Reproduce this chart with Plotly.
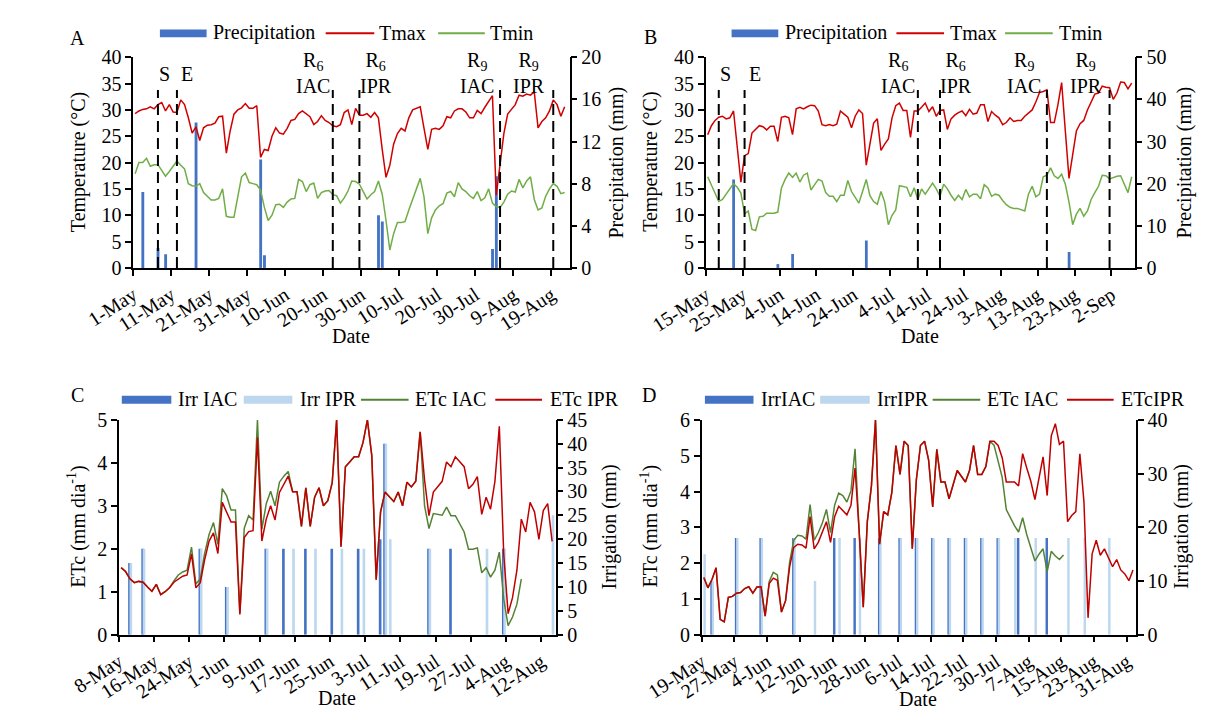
import pandas as pd
import plotly.graph_objects as go

W, H = 1208, 720
FONT = "Liberation Serif, Times New Roman, serif"
DAY = 86400000  # one day in ms

# ------------------------------------------------------------------ DATA
# Panel A (daily from 1-May)
A_START = "2019-05-01"
A_TMAX = [29.3, 29.8, 30.1, 30.2, 30.6, 30.2, 31.0, 31.4, 29.8, 31.0,
          29.6, 29.5, 31.9, 31.0, 28.5, 25.6, 26.8, 24.2, 26.6, 27.1,
          27.2, 27.5, 28.7, 28.8, 21.8, 26.0, 29.2, 30.0, 30.4, 31.2,
          30.3, 30.3, 30.8, 21.0, 22.5, 22.3, 25.0, 26.6, 25.6, 25.4,
          26.5, 28.0, 28.2, 29.3, 29.8, 29.2, 28.7, 27.2, 27.8, 28.9,
          28.0, 27.6, 27.0, 26.8, 27.2, 29.5, 30.0, 27.2, 30.3, 29.0,
          29.0, 29.3, 28.6, 29.5, 28.5, 22.5, 17.2, 19.5, 23.5, 25.5,
          26.5, 26.0, 28.5, 30.0, 30.3, 30.6, 26.5, 22.5, 26.3, 26.5,
          26.3, 27.0, 28.7, 28.5, 29.8, 30.2, 30.2, 29.6, 28.5, 28.5,
          29.9, 29.3, 30.5, 31.6, 32.7, 13.8, 20.0, 25.5, 29.2, 30.2,
          31.0, 32.8, 32.6, 33.0, 32.8, 33.4, 26.6, 27.8, 28.5, 29.8,
          31.9, 31.0, 28.8, 30.6]
A_TMIN = [17.9, 20.0, 20.0, 20.8, 19.3, 19.6, 19.6, 18.5, 17.4, 18.3,
          19.3, 20.3, 19.5, 18.8, 16.0, 15.6, 15.5, 16.0, 14.3, 13.5,
          12.9, 12.9, 13.2, 15.0, 9.8, 9.6, 9.6, 13.5, 17.3, 18.0,
          16.2, 16.0, 15.8, 14.8, 11.5, 9.0, 10.0, 12.0, 12.1, 11.5,
          12.5, 13.1, 13.2, 16.8, 16.4, 14.5, 15.8, 16.1, 13.2, 14.3,
          14.6, 14.7, 13.9, 13.7, 12.3, 13.3, 14.6, 16.5, 16.4, 15.9,
          14.5, 13.1, 13.9, 14.5, 16.5, 14.0, 9.0, 3.4, 6.5, 8.6,
          8.6, 8.8, 11.0, 13.0, 15.0, 17.0, 13.5, 6.5, 9.5, 11.0,
          11.8, 12.2, 14.2, 14.5, 13.5, 16.2, 15.0, 14.5, 13.7, 13.2,
          14.5, 12.8, 13.3, 15.0, 12.3, 11.6, 11.5, 12.5, 14.0, 14.6,
          14.4, 16.8, 15.2, 16.5, 17.3, 13.0, 11.0, 11.4, 13.6, 15.0,
          16.0, 15.5, 14.1, 14.3]
A_RAIN_DATES = ["2019-05-03", "2019-05-07", "2019-05-09", "2019-05-17", "2019-06-03",
                "2019-06-04", "2019-07-04", "2019-07-05", "2019-08-03", "2019-08-04"]
A_RAIN_MM = [7.2, 1.9, 1.3, 13.8, 10.3, 1.2, 5.0, 4.4, 1.8, 8.7]
A_STAGE_DATES = ["2019-05-07", "2019-05-12", "2019-06-22", "2019-06-29", "2019-08-05", "2019-08-19"]

# Panel B (daily from 15-May)
B_START = "2019-05-15"
B_TMAX = [25.3, 27.0, 28.0, 28.6, 28.8, 28.3, 28.5, 29.8, 23.0, 16.3,
          21.3, 21.7, 25.6, 26.3, 27.0, 26.8, 26.2, 26.9, 26.9, 24.0,
          28.6, 28.8, 28.5, 25.3, 30.2, 30.5, 30.2, 30.6, 30.9, 30.8,
          29.8, 27.2, 27.0, 27.2, 27.0, 27.3, 29.8, 29.2, 28.6, 26.6,
          28.8, 30.0, 29.3, 19.5, 23.5, 27.5, 28.3, 22.3, 23.5, 24.5,
          28.5, 30.8, 31.3, 29.9, 29.9, 24.8, 29.8, 29.8, 30.5, 31.3,
          29.7, 30.6, 28.8, 29.9, 30.0, 26.3, 28.3, 29.0, 29.5, 29.8,
          28.9, 30.1, 29.2, 29.4, 31.0, 31.0, 27.8, 29.7, 29.0, 28.5,
          27.2, 27.6, 28.5, 27.8, 28.0, 28.0, 28.8, 29.5, 30.0, 31.5,
          33.3, 33.5, 33.8, 27.6, 27.6, 31.0, 35.2, 26.0, 17.0, 21.5,
          26.0, 27.4, 28.0, 30.0, 31.5, 33.0, 33.2, 34.5, 34.3, 34.2,
          32.0, 33.2, 35.3, 35.2, 34.0, 35.1]
B_TMIN = [17.3, 15.7, 14.3, 12.6, 13.0, 14.0, 15.2, 16.0, 15.3, 14.2,
          10.3, 10.8, 7.3, 7.1, 9.7, 9.8, 10.4, 10.4, 10.4, 10.6,
          15.2, 16.8, 18.0, 17.2, 18.0, 16.3, 17.6, 18.0, 14.8, 15.8,
          16.8, 16.5, 14.3, 13.6, 13.6, 12.6, 13.8, 13.8, 16.6, 14.5,
          13.5, 12.3, 14.5, 16.8, 13.7, 12.6, 12.1, 14.5, 12.5, 8.2,
          10.0, 11.0, 15.6, 15.5, 15.3, 13.5, 15.2, 13.0, 15.0, 14.0,
          15.0, 16.1, 15.0, 13.6, 15.9, 15.0, 13.8, 12.8, 13.8, 13.0,
          14.9, 13.5, 14.0, 14.0, 13.1, 15.8, 15.2, 13.6, 14.0, 13.8,
          12.8, 12.0, 11.5, 11.3, 11.3, 11.0, 10.8, 14.0, 15.5, 13.5,
          14.0, 17.3, 17.6, 19.0, 17.5, 17.0, 17.8, 15.9, 12.5, 8.2,
          10.2, 11.3, 9.8, 10.8, 13.0, 14.3, 15.5, 17.6, 17.5, 16.9,
          17.2, 17.4, 17.5, 16.0, 14.3, 17.3]
B_RAIN_DATES = ["2019-05-22", "2019-06-03", "2019-06-07", "2019-06-27", "2019-08-21"]
B_RAIN_MM = [21.0, 0.9, 3.3, 6.5, 3.8]
B_STAGE_DATES = ["2019-05-18", "2019-05-25", "2019-07-11", "2019-07-17", "2019-08-15", "2019-09-01"]

STAGE_LABELS = ["S", "E", "R<sub>6</sub><br>IAC", "R<sub>6</sub><br>IPR",
                "R<sub>9</sub><br>IAC", "R<sub>9</sub><br>IPR"]

# Panel C (daily from 8-May)
C_START = "2019-05-08"
C_ETC_IAC = [1.56, 1.47, 1.30, 1.21, 1.24, 1.22, 1.11, 1.01, 1.17, 0.93,
             1.00, 1.09, 1.25, 1.39, 1.46, 1.50, 2.04, 1.18, 1.30, 1.90,
             2.33, 2.61, 2.10, 3.40, 3.23, 2.90, 2.90, 0.50, 2.48, 2.77,
             2.67, 5.00, 2.45, 3.05, 3.34, 3.00, 3.55, 3.69, 3.80, 3.33,
             3.33, 2.52, 3.42, 2.52, 3.20, 3.42, 3.00, 3.12, 3.54, 5.00,
             2.05, 3.91, 4.02, 4.14, 4.14, 4.47, 5.00, 4.17, 1.28, 2.86,
             3.32, 3.20, 3.10, 3.32, 3.00, 3.55, 3.44, 3.57, 4.72, 3.00,
             2.47, 2.82, 2.80, 2.78, 2.97, 2.77, 2.77, 2.59, 2.39, 1.99,
             1.99, 2.02, 1.44, 1.56, 1.34, 1.50, 1.92, 0.83, 0.21, 0.41,
             0.71, 1.29]
C_ETC_IPR = [1.56, 1.47, 1.30, 1.21, 1.24, 1.22, 1.11, 1.01, 1.17, 0.93,
             1.00, 1.09, 1.22, 1.30, 1.36, 1.39, 1.88, 1.09, 1.21, 1.75,
             2.18, 2.37, 1.89, 3.08, 2.87, 2.62, 2.62, 0.47, 2.26, 2.40,
             2.42, 4.59, 2.18, 2.69, 3.00, 2.67, 3.31, 3.50, 3.69, 3.33,
             3.33, 2.52, 3.42, 2.52, 3.20, 3.42, 3.00, 3.12, 3.54, 5.00,
             2.05, 3.91, 4.02, 4.14, 4.14, 4.47, 5.00, 4.17, 1.28, 2.86,
             3.32, 3.20, 3.10, 3.32, 3.00, 3.55, 3.44, 3.57, 4.72, 3.60,
             2.77, 3.32, 3.44, 3.57, 4.02, 3.91, 4.14, 4.02, 3.91, 3.40,
             3.50, 3.68, 2.80, 3.20, 2.92, 3.57, 4.85, 1.88, 0.49, 0.86,
             1.50, 2.69, 2.39, 3.08, 2.86, 2.22, 2.89, 3.05, 2.17]
C_IRR_IAC_DATES = ["2019-05-10", "2019-05-13", "2019-05-26", "2019-06-01", "2019-06-10",
                   "2019-06-14", "2019-06-19", "2019-06-25", "2019-07-01", "2019-07-06",
                   "2019-07-07", "2019-07-17", "2019-07-22", "2019-08-03"]
C_IRR_IAC_MM = [15, 18, 18, 10, 18, 18, 18, 18, 18, 20, 40, 18, 18, 18]
C_IRR_IPR_DATES = ["2019-05-10", "2019-05-13", "2019-05-26", "2019-06-01", "2019-06-10",
                   "2019-06-16", "2019-06-21", "2019-06-27", "2019-07-02", "2019-07-07",
                   "2019-07-08", "2019-07-17", "2019-07-30", "2019-08-03", "2019-08-14"]
C_IRR_IPR_MM = [15, 18, 18, 10, 18, 18, 18, 18, 18, 40, 20, 18, 18, 18, 25]

# Panel D (daily from 19-May)
D_START = "2019-05-19"
D_ETC_IAC = [1.60, 1.31, 1.54, 1.87, 0.43, 0.36, 1.04, 1.07, 1.16, 1.18,
             1.29, 1.34, 1.16, 1.33, 1.34, 0.52, 1.49, 1.74, 1.67, 0.63,
             0.95, 2.03, 2.64, 2.78, 2.76, 2.67, 3.64, 2.64, 2.85, 3.12,
             3.50, 2.85, 3.62, 3.96, 3.89, 3.71, 4.02, 5.20, 2.90, 0.77,
             3.16, 4.16, 6.00, 2.53, 3.44, 3.35, 3.98, 5.29, 4.48, 5.41,
             5.29, 2.40, 4.34, 5.29, 5.41, 4.88, 3.57, 5.18, 4.27, 4.27,
             3.80, 4.23, 4.59, 4.43, 4.27, 4.59, 5.29, 4.48, 4.48, 4.70,
             5.41, 5.30, 4.88, 4.40, 3.50, 3.27, 3.05, 2.87, 3.27, 2.80,
             2.40, 2.06, 2.25, 2.40, 1.76, 2.33, 2.20, 2.10, 2.23]
D_ETC_IPR = [1.60, 1.31, 1.54, 1.87, 0.43, 0.36, 1.04, 1.07, 1.16, 1.18,
             1.29, 1.34, 1.16, 1.33, 1.34, 0.52, 1.43, 1.58, 1.52, 0.63,
             0.95, 1.90, 2.44, 2.53, 2.51, 2.42, 3.30, 2.40, 2.58, 2.85,
             3.16, 2.58, 3.30, 3.59, 3.48, 3.35, 3.62, 4.66, 2.90, 0.77,
             3.16, 4.16, 6.00, 2.53, 3.44, 3.35, 3.98, 5.29, 4.48, 5.41,
             5.29, 2.40, 4.34, 5.29, 5.41, 4.88, 3.57, 5.18, 4.27, 4.27,
             3.80, 4.23, 4.59, 4.43, 4.27, 4.59, 5.29, 4.48, 4.48, 4.70,
             5.41, 5.41, 5.29, 4.95, 4.27, 4.27, 4.27, 4.16, 5.06, 4.66,
             4.29, 3.78, 4.43, 4.97, 3.89, 5.56, 5.90, 5.32, 5.41, 3.16,
             3.33, 3.44, 5.06, 3.71, 0.47, 2.26, 2.64, 2.22, 2.40, 2.17,
             1.90, 2.10, 1.81, 1.70, 1.51, 1.81]
D_IRR_IAC_DATES = ["2019-05-21", "2019-05-27", "2019-06-02", "2019-06-10", "2019-06-20",
                   "2019-06-25", "2019-07-01", "2019-07-06", "2019-07-10", "2019-07-14",
                   "2019-07-18", "2019-07-22", "2019-07-26", "2019-07-30", "2019-08-04",
                   "2019-08-11"]
D_IRR_IAC_MM = [10, 18, 18, 18, 18, 18, 18, 18, 18, 18, 18, 18, 18, 18, 18, 18]
D_IRR_IPR_DATES = ["2019-05-19", "2019-05-21", "2019-05-27", "2019-06-02", "2019-06-10",
                   "2019-06-15", "2019-06-21", "2019-06-26", "2019-07-01", "2019-07-06",
                   "2019-07-10", "2019-07-14", "2019-07-18", "2019-07-22", "2019-07-26",
                   "2019-07-30", "2019-08-03", "2019-08-08", "2019-08-16", "2019-08-20",
                   "2019-08-26"]
D_IRR_IPR_MM = [15, 10, 18, 18, 18, 10, 18, 18, 18, 18, 18, 18, 18, 18, 18,
                18, 18, 18, 18, 18, 18]

# ------------------------------------------------------------------ STYLE
BLUE = "#4472C4"
LIGHT = "#BDD7EE"
RED = "#D00000"
GREEN = "#70AD47"
DGREEN = "#548235"
RED2 = "#C00000"
LW = 1.5

# plot-area geometry in pixels: (left, right, top, bottom, range length in days)
GEOM = {
    "A": (80, 538, 47.7, 265, 114.8),
    "B": (681, 1131, 47.7, 265, 116.3),
    "C": (65, 523.3, 421.8, 643.3, 99.3),
    "D": (676.7, 1132.3, 422, 643.3, 106.2),
}


def xp(px):
    return px / W


def yp(py):
    return 1.0 - py / H


def daily_x(start, n):
    return pd.date_range(start, periods=n, freq="D") + pd.Timedelta(hours=12)


def noon(d):
    return str(pd.Timestamp(d) + pd.Timedelta(hours=12))


def shift(start, days):
    return str(pd.Timestamp(start) + pd.Timedelta(days=days))


fig = go.Figure()

# ---- Panel A
fig.add_bar(x=pd.to_datetime(A_RAIN_DATES), y=A_RAIN_MM, xaxis="x", yaxis="y",
            offset=0.15 * DAY, width=0.75 * DAY, marker=dict(color=BLUE, line=dict(width=0)),
            name="Precipitation")
fig.add_scatter(x=daily_x(A_START, len(A_TMAX)), y=A_TMAX, xaxis="x", yaxis="y2",
                mode="lines", line=dict(color=RED, width=LW), name="Tmax")
fig.add_scatter(x=daily_x(A_START, len(A_TMIN)), y=A_TMIN, xaxis="x", yaxis="y2",
                mode="lines", line=dict(color=GREEN, width=LW), name="Tmin")

# ---- Panel B
fig.add_bar(x=pd.to_datetime(B_RAIN_DATES), y=B_RAIN_MM, xaxis="x2", yaxis="y3",
            offset=0.15 * DAY, width=0.75 * DAY, marker=dict(color=BLUE, line=dict(width=0)),
            name="Precipitation")
fig.add_scatter(x=daily_x(B_START, len(B_TMAX)), y=B_TMAX, xaxis="x2", yaxis="y4",
                mode="lines", line=dict(color=RED, width=LW), name="Tmax")
fig.add_scatter(x=daily_x(B_START, len(B_TMIN)), y=B_TMIN, xaxis="x2", yaxis="y4",
                mode="lines", line=dict(color=GREEN, width=LW), name="Tmin")

# ---- Panel C
fig.add_bar(x=pd.to_datetime(C_IRR_IAC_DATES), y=C_IRR_IAC_MM, xaxis="x3", yaxis="y5",
            offset=0.1 * DAY, width=0.6 * DAY, marker=dict(color=BLUE, line=dict(width=0)),
            name="Irr IAC")
fig.add_bar(x=pd.to_datetime(C_IRR_IPR_DATES), y=C_IRR_IPR_MM, xaxis="x3", yaxis="y5",
            offset=0.4 * DAY, width=0.6 * DAY, marker=dict(color=LIGHT, line=dict(width=0)),
            name="Irr IPR")
fig.add_scatter(x=daily_x(C_START, len(C_ETC_IAC)), y=C_ETC_IAC, xaxis="x3", yaxis="y6",
                mode="lines", line=dict(color=DGREEN, width=LW), name="ETc IAC")
fig.add_scatter(x=daily_x(C_START, len(C_ETC_IPR)), y=C_ETC_IPR, xaxis="x3", yaxis="y6",
                mode="lines", line=dict(color=RED2, width=LW), name="ETc IPR")

# ---- Panel D
fig.add_bar(x=pd.to_datetime(D_IRR_IAC_DATES), y=D_IRR_IAC_MM, xaxis="x4", yaxis="y7",
            offset=0.1 * DAY, width=0.6 * DAY, marker=dict(color=BLUE, line=dict(width=0)),
            name="IrrIAC")
fig.add_bar(x=pd.to_datetime(D_IRR_IPR_DATES), y=D_IRR_IPR_MM, xaxis="x4", yaxis="y7",
            offset=0.4 * DAY, width=0.6 * DAY, marker=dict(color=LIGHT, line=dict(width=0)),
            name="IrrIPR")
fig.add_scatter(x=daily_x(D_START, len(D_ETC_IAC)), y=D_ETC_IAC, xaxis="x4", yaxis="y8",
                mode="lines", line=dict(color=DGREEN, width=LW), name="ETc IAC")
fig.add_scatter(x=daily_x(D_START, len(D_ETC_IPR)), y=D_ETC_IPR, xaxis="x4", yaxis="y8",
                mode="lines", line=dict(color=RED2, width=LW), name="ETcIPR")

# ------------------------------------------------------------------ AXES
tickfont = dict(family=FONT, size=20, color="black")
xbase = dict(type="date", tickmode="linear", tickformat="%-d-%b", tickangle=-33,
             ticks="outside", ticklen=6, tickwidth=1.5, tickcolor="black",
             showline=True, linecolor="black", linewidth=1.5, showgrid=False,
             zeroline=False, tickfont=tickfont, fixedrange=True)
ybase = dict(tickmode="linear", tick0=0, ticks="outside", ticklen=6, tickwidth=1.5,
             tickcolor="black", showline=True, linecolor="black", linewidth=1.5,
             showgrid=False, zeroline=False, tickfont=tickfont, fixedrange=True)


def xdom(k):
    g = GEOM[k]
    return [xp(g[0]), xp(g[1])]


def ydom(k):
    g = GEOM[k]
    return [yp(g[3]), yp(g[2])]


fig.update_layout(
    xaxis=dict(xbase, domain=xdom("A"), anchor="y",
               range=[A_START, shift(A_START, GEOM["A"][4])], tick0=A_START, dtick=10 * DAY),
    yaxis=dict(ybase, domain=ydom("A"), anchor="x", side="right", range=[0, 20], dtick=4),
    yaxis2=dict(ybase, overlaying="y", anchor="x", side="left", range=[0, 40], dtick=5),
    xaxis2=dict(xbase, domain=xdom("B"), anchor="y3",
                range=[B_START, shift(B_START, GEOM["B"][4])], tick0=B_START, dtick=10 * DAY),
    yaxis3=dict(ybase, domain=ydom("B"), anchor="x2", side="right", range=[0, 50], dtick=10),
    yaxis4=dict(ybase, overlaying="y3", anchor="x2", side="left", range=[0, 40], dtick=5),
    xaxis3=dict(xbase, domain=xdom("C"), anchor="y5",
                range=[C_START, shift(C_START, GEOM["C"][4])], tick0=C_START, dtick=8 * DAY),
    yaxis5=dict(ybase, domain=ydom("C"), anchor="x3", side="right", range=[0, 45], dtick=5),
    yaxis6=dict(ybase, overlaying="y5", anchor="x3", side="left", range=[0, 5], dtick=1),
    xaxis4=dict(xbase, domain=xdom("D"), anchor="y7",
                range=[D_START, shift(D_START, GEOM["D"][4])], tick0=D_START, dtick=8 * DAY),
    yaxis7=dict(ybase, domain=ydom("D"), anchor="x4", side="right", range=[0, 40], dtick=10),
    yaxis8=dict(ybase, overlaying="y7", anchor="x4", side="left", range=[0, 6], dtick=1),
)

# ------------------------------------------------------------------ STAGES
shapes = []
annotations = []
STAGE_XSHIFT = [7, 11, -21, 17, -24, -25]   # label offset from its line, px
STAGE_LINE_TOP = 33.8                        # top of dashed marker, in deg C
for key, start, dates, xr, yr in [("A", A_START, A_STAGE_DATES, "x", "y2"),
                                  ("B", B_START, B_STAGE_DATES, "x2", "y4")]:
    left, right, top, bottom, ndays = GEOM[key]
    for i, d in enumerate(dates):
        shapes.append(dict(type="line", xref=xr, yref=yr, x0=noon(d), x1=noon(d),
                           y0=0, y1=STAGE_LINE_TOP,
                           line=dict(color="black", width=2, dash="11px,6px")))
        frac = ((pd.Timestamp(d) - pd.Timestamp(start)).days + 0.5) / ndays
        px = left + frac * (right - left) + STAGE_XSHIFT[i]
        two = "<br>" in STAGE_LABELS[i]
        annotations.append(dict(xref="paper", yref="paper", x=xp(px),
                                y=yp(64 if two else 65.5), text=STAGE_LABELS[i],
                                showarrow=False, xanchor="center", yanchor="middle",
                                align="center",
                                font=dict(family=FONT, size=20, color="black")))

# ------------------------------------------------------------------ LEGENDS (drawn)
# (kind, colour, label, symbol x0, symbol x1, text x) in pixels
LEGENDS = [
    (23, [("bar", BLUE, "Precipitation", 108, 157, 162),
          ("line", RED, "Tmax", 282, 333, 336),
          ("line", GREEN, "Tmin", 400, 449, 452)]),
    (23, [("bar", BLUE, "Precipitation", 708, 757, 762),
          ("line", RED, "Tmax", 881, 931, 935),
          ("line", GREEN, "Tmin", 995, 1045, 1050)]),
    (401, [("bar", BLUE, "Irr IAC", 68, 120, 125),
           ("bar", LIGHT, "Irr IPR", 196, 247, 253),
           ("line", DGREEN, "ETc IAC", 319, 369, 374),
           ("line", RED2, "ETc IPR", 460, 509, 515)]),
    (401, [("bar", BLUE, "IrrIAC", 680, 731, 737),
           ("bar", LIGHT, "IrrIPR", 801, 853, 858),
           ("line", DGREEN, "ETc IAC", 919, 969, 974),
           ("line", RED2, "ETcIPR", 1060, 1109, 1115)]),
]
for ly, items in LEGENDS:
    for kind, col, label, s0, s1, tx in items:
        if kind == "bar":
            shapes.append(dict(type="rect", xref="paper", yref="paper",
                               x0=xp(s0), x1=xp(s1), y0=yp(ly + 4), y1=yp(ly - 4),
                               fillcolor=col, line=dict(width=0)))
        else:
            shapes.append(dict(type="line", xref="paper", yref="paper",
                               x0=xp(s0), x1=xp(s1), y0=yp(ly), y1=yp(ly),
                               line=dict(color=col, width=2)))
        annotations.append(dict(xref="paper", yref="paper", x=xp(tx), y=yp(ly - 0.5),
                                text=label, showarrow=False, xanchor="left", yanchor="middle",
                                font=dict(family=FONT, size=20, color="black")))

# ------------------------------------------------------------------ TITLES
TITLES = [
    ("A", 21, 28, 0), ("B", 623, 27, 0), ("C", 21, 396, 0), ("D", 621, 396, 0),
    ("Temperature (°C)", 22, 156, -90), ("Precipitation (mm)", 587, 156, -90),
    ("Temperature (°C)", 623, 156, -90), ("Precipitation (mm)", 1183, 156, -90),
    ("ETc (mm dia<sup>-1</sup>)", 21, 532, -90), ("Irrigation (mm)", 580, 532, -90),
    ("ETc (mm dia<sup>-1</sup>)", 622, 532, -90), ("Irrigation (mm)", 1180, 532, -90),
    ("Date", 309, 335, 0), ("Date", 906, 335, 0), ("Date", 294, 709, 0), ("Date", 904, 710, 0),
]
for text, tx, ty, ang in TITLES:
    annotations.append(dict(xref="paper", yref="paper", x=xp(tx), y=yp(ty), text=text,
                            showarrow=False, textangle=ang, xanchor="center", yanchor="middle",
                            font=dict(family=FONT, size=20, color="black")))

fig.update_layout(
    width=W, height=H, margin=dict(l=0, r=0, t=0, b=0),
    paper_bgcolor="white", plot_bgcolor="white", showlegend=False,
    barmode="overlay", font=dict(family=FONT, size=20, color="black"),
    shapes=shapes, annotations=annotations,
)

fig.write_html("out.html")
